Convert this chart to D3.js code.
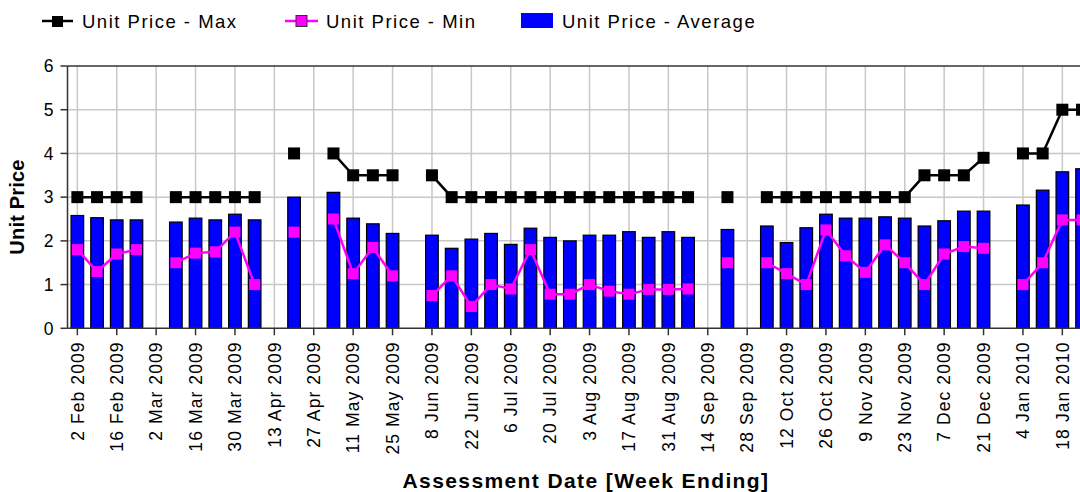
<!DOCTYPE html>
<html>
<head>
<meta charset="utf-8">
<script src="https://cdn.jsdelivr.net/npm/d3@7"></script>
<style>
    body { margin: 0; background: #fff; }
    text { font-family: "Liberation Sans", Arial, sans-serif; fill: #000; }
    .tickLabel { font-size: 17.5px; letter-spacing: 1.1px; }
    .legendText { font-size: 18.5px; letter-spacing: 1.5px; }
    .axisTitle { font-size: 21px; font-weight: bold; letter-spacing: 1.4px; }
    .yTitle { font-size: 20px; font-weight: bold; letter-spacing: 0.2px; }
</style>
</head>
<body>
<div id="scene"></div>
<script>
const weeks = [
    '2 Feb 2009', '9 Feb 2009', '16 Feb 2009', '23 Feb 2009',
    '2 Mar 2009', '9 Mar 2009', '16 Mar 2009', '23 Mar 2009', '30 Mar 2009',
    '6 Apr 2009', '13 Apr 2009', '20 Apr 2009', '27 Apr 2009',
    '4 May 2009', '11 May 2009', '18 May 2009', '25 May 2009',
    '1 Jun 2009', '8 Jun 2009', '15 Jun 2009', '22 Jun 2009', '29 Jun 2009',
    '6 Jul 2009', '13 Jul 2009', '20 Jul 2009', '27 Jul 2009',
    '3 Aug 2009', '10 Aug 2009', '17 Aug 2009', '24 Aug 2009', '31 Aug 2009',
    '7 Sep 2009', '14 Sep 2009', '21 Sep 2009', '28 Sep 2009',
    '5 Oct 2009', '12 Oct 2009', '19 Oct 2009', '26 Oct 2009',
    '2 Nov 2009', '9 Nov 2009', '16 Nov 2009', '23 Nov 2009', '30 Nov 2009',
    '7 Dec 2009', '14 Dec 2009', '21 Dec 2009', '28 Dec 2009',
    '4 Jan 2010', '11 Jan 2010', '18 Jan 2010', '25 Jan 2010'
];

// labelled every second week
const tickWeeks = weeks.filter((w, i) => i % 2 === 0);

const priceAverage = [
    2.58, 2.53, 2.48, 2.48, null, 2.43, 2.52, 2.48, 2.61, 2.48,
    null, 3.0, null, 3.11, 2.52, 2.39, 2.17, null, 2.13, 1.83,
    2.04, 2.17, 1.92, 2.29, 2.08, 2.0, 2.13, 2.13, 2.21, 2.08,
    2.21, 2.08, null, 2.26, null, 2.34, 1.96, 2.3, 2.61, 2.52,
    2.52, 2.55, 2.52, 2.34, 2.46, 2.68, 2.68, null, 2.82, 3.16,
    3.58, 3.65
];

const priceMax = [
    3, 3, 3, 3, null, 3, 3, 3, 3, 3,
    null, 4, null, 4, 3.5, 3.5, 3.5, null, 3.5, 3,
    3, 3, 3, 3, 3, 3, 3, 3, 3, 3,
    3, 3, null, 3, null, 3, 3, 3, 3, 3,
    3, 3, 3, 3.5, 3.5, 3.5, 3.9, null, 4, 4,
    5, 5
];

const priceMin = [
    1.8, 1.3, 1.7, 1.8, null, 1.5, 1.72, 1.75, 2.2, 1.0,
    null, 2.2, null, 2.5, 1.25, 1.85, 1.2, null, 0.75, 1.2,
    0.5, 1.0, 0.9, 1.8, 0.78, 0.78, 1.0, 0.85, 0.78, 0.89,
    0.89, 0.9, null, 1.5, null, 1.5, 1.25, 1.0, 2.25, 1.66,
    1.28, 1.91, 1.5, 1.0, 1.7, 1.87, 1.83, null, 1.0, 1.5,
    2.48, 2.48
];

const yTicks = [0, 1, 2, 3, 4, 5, 6];

const legendItems = ['Unit Price - Max', 'Unit Price - Min', 'Unit Price - Average'];

const width = 1080;
const height = 492;
const plotLeft = 67.5;
const plotTop = 66;
const plotBottom = 328.3;
const step = 19.7;

const svg = d3.select('#scene')
    .append('svg')
    .attr('width', width)
    .attr('height', height);

const xScale = d3.scaleBand()
    .domain(weeks)
    .range([plotLeft, plotLeft + step * weeks.length])
    .paddingInner(0.36)
    .paddingOuter(0.18);

const yScale = d3.scaleLinear().domain([0, 6]).range([plotBottom, plotTop]);

const cx = (w) => xScale(w) + xScale.bandwidth() / 2;
const plotRight = plotLeft + step * weeks.length;

const chart = svg.append('g');

// grid
chart.selectAll('.hGrid')
    .data(yTicks.slice(1, -1))
    .enter().append('line')
    .attr('x1', plotLeft).attr('x2', plotRight)
    .attr('y1', d => yScale(d)).attr('y2', d => yScale(d))
    .attr('stroke', '#c8c8c8').attr('stroke-width', 1.5);

chart.selectAll('.vGrid')
    .data(tickWeeks)
    .enter().append('line')
    .attr('x1', cx).attr('x2', cx)
    .attr('y1', plotTop).attr('y2', plotBottom)
    .attr('stroke', '#c8c8c8').attr('stroke-width', 1.5);

// bars
const avgData = weeks.map((w, i) => ({ w: w, v: priceAverage[i] })).filter(d => d.v !== null);
chart.selectAll('.bar')
    .data(avgData)
    .enter().append('rect')
    .attr('x', d => xScale(d.w))
    .attr('width', xScale.bandwidth())
    .attr('y', d => yScale(d.v))
    .attr('height', d => yScale(0) - yScale(d.v))
    .attr('fill', '#0000ff')
    .attr('stroke', '#000')
    .attr('stroke-width', 1.2);

// frame
chart.append('line')
    .attr('x1', plotLeft).attr('x2', plotRight).attr('y1', plotTop).attr('y2', plotTop)
    .attr('stroke', '#333').attr('stroke-width', 1.5);
chart.append('line')
    .attr('x1', plotLeft).attr('x2', plotRight).attr('y1', plotBottom).attr('y2', plotBottom)
    .attr('stroke', '#333').attr('stroke-width', 1.5);
chart.append('line')
    .attr('x1', plotLeft).attr('x2', plotLeft).attr('y1', plotTop).attr('y2', plotBottom)
    .attr('stroke', '#333').attr('stroke-width', 1.5);

// y ticks and labels
chart.selectAll('.yTick')
    .data(yTicks)
    .enter().append('line')
    .attr('x1', plotLeft - 7).attr('x2', plotLeft)
    .attr('y1', d => yScale(d)).attr('y2', d => yScale(d))
    .attr('stroke', '#333').attr('stroke-width', 1.5);

chart.selectAll('.yLabel')
    .data(yTicks)
    .enter().append('text')
    .attr('class', 'tickLabel')
    .attr('x', plotLeft - 13)
    .attr('y', d => yScale(d))
    .attr('dy', '0.36em')
    .attr('text-anchor', 'end')
    .text(String);

// x ticks and labels
chart.selectAll('.xTick')
    .data(tickWeeks)
    .enter().append('line')
    .attr('x1', cx).attr('x2', cx)
    .attr('y1', plotBottom).attr('y2', plotBottom + 7)
    .attr('stroke', '#333').attr('stroke-width', 1.5);

chart.selectAll('.xLabel')
    .data(tickWeeks)
    .enter().append('text')
    .attr('class', 'tickLabel')
    .attr('transform', d => `translate(${cx(d)},${plotBottom + 13}) rotate(-90)`)
    .attr('dy', '0.36em')
    .attr('text-anchor', 'end')
    .text(String);

// lines
const lineOf = (values) => d3.line()
    .defined((d, i) => values[i] !== null)
    .x(d => cx(d))
    .y((d, i) => yScale(values[i]));

chart.append('path')
    .datum(weeks)
    .attr('d', lineOf(priceMin))
    .attr('fill', 'none')
    .attr('stroke', '#ff00ff')
    .attr('stroke-width', 2.5);

chart.append('path')
    .datum(weeks)
    .attr('d', lineOf(priceMax))
    .attr('fill', 'none')
    .attr('stroke', '#000')
    .attr('stroke-width', 2.5);

const maxData = weeks.map((w, i) => ({ w: w, v: priceMax[i] })).filter(d => d.v !== null);
chart.selectAll('.maxMark')
    .data(maxData)
    .enter().append('rect')
    .attr('x', d => cx(d.w) - 6)
    .attr('y', d => yScale(d.v) - 6)
    .attr('width', 12).attr('height', 12)
    .attr('fill', '#000');

const minData = weeks.map((w, i) => ({ w: w, v: priceMin[i] })).filter(d => d.v !== null);
chart.selectAll('.minMark')
    .data(minData)
    .enter().append('rect')
    .attr('x', d => cx(d.w) - 5.5)
    .attr('y', d => yScale(d.v) - 5.5)
    .attr('width', 11).attr('height', 11)
    .attr('fill', '#ff00ff');

// axis titles
svg.append('text')
    .attr('class', 'yTitle')
    .attr('transform', 'translate(24,207) rotate(-90)')
    .attr('text-anchor', 'middle')
    .text('Unit Price');

svg.append('text')
    .attr('class', 'axisTitle')
    .attr('x', 586)
    .attr('y', 488)
    .attr('text-anchor', 'middle')
    .text('Assessment Date [Week Ending]');

// legend
const legend = svg.append('g');
const legendX = [42, 285, 521];

legend.append('line')
    .attr('x1', legendX[0]).attr('x2', legendX[0] + 31).attr('y1', 21).attr('y2', 21)
    .attr('stroke', '#000').attr('stroke-width', 2.5);
legend.append('rect')
    .attr('x', legendX[0] + 10).attr('y', 16).attr('width', 11).attr('height', 11)
    .attr('fill', '#000');

legend.append('line')
    .attr('x1', legendX[1]).attr('x2', legendX[1] + 33).attr('y1', 21).attr('y2', 21)
    .attr('stroke', '#ff00ff').attr('stroke-width', 2.5);
legend.append('rect')
    .attr('x', legendX[1] + 11).attr('y', 15.5).attr('width', 11).attr('height', 11)
    .attr('fill', '#ff00ff').attr('stroke', '#333').attr('stroke-width', 1);

legend.append('rect')
    .attr('x', legendX[2]).attr('y', 13).attr('width', 32).attr('height', 15)
    .attr('fill', '#0000ff');

legend.selectAll('.legendText')
    .data(legendItems)
    .enter().append('text')
    .attr('class', 'legendText')
    .attr('x', (d, i) => [82, 326, 562][i])
    .attr('y', 28)
    .text(String);
</script>
</body>
</html>
